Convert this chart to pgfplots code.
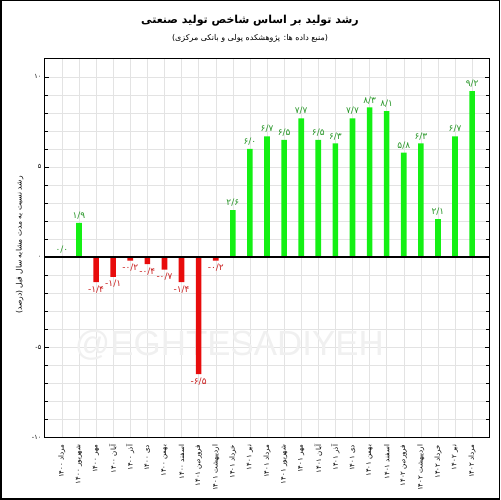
\documentclass[border=0pt]{standalone}
\usepackage{pgfplots}
\pgfplotsset{compat=1.18}
\usepackage{pgfplotstable}
\usepackage{fontspec}
\setmainfont{DejaVu Sans}
\newfontfamily\fa[Script=Arabic]{DejaVu Sans}
\newfontfamily\wm{Liberation Sans}
\TeXXeTstate=1
\newcommand\R[1]{\beginR#1\endR}
\newcommand\m{{\rmfamily -}}
\definecolor{barg}{RGB}{20,240,20}
\definecolor{barr}{RGB}{232,12,12}
\definecolor{lblg}{RGB}{40,150,40}
\definecolor{lblr}{RGB}{200,30,30}

\pgfplotstableread{
x y lbl
0 0.0 ۰/۰
1 1.9 ۱/۹
10 2.6 ۲/۶
11 6.0 ۶/۰
12 6.7 ۶/۷
13 6.5 ۶/۵
14 7.7 ۷/۷
15 6.5 ۶/۵
16 6.3 ۶/۳
17 7.7 ۷/۷
18 8.3 ۸/۳
19 8.1 ۸/۱
20 5.8 ۵/۸
21 6.3 ۶/۳
22 2.1 ۲/۱
23 6.7 ۶/۷
24 9.2 ۹/۲
}\pos

\pgfplotstableread{
x y lbl
2 -1.4 \m۱/۴
3 -1.1 \m۱/۱
4 -0.2 \m۰/۲
5 -0.4 \m۰/۴
6 -0.7 \m۰/۷
7 -1.4 \m۱/۴
8 -6.5 \m۶/۵
9 -0.2 \m۰/۲
}\neg

\begin{document}
\begin{tikzpicture}
\begin{axis}[
  at={(0,0)}, anchor=south west, scale only axis,
  width=444bp, height=378bp,
  xmin=-1, xmax=25, ymin=-10, ymax=11,
  ybar, bar width=0.33, bar shift=0pt,
  xtick={0,...,24},
  xticklabels={\R{مرداد ۱۴۰۰},\R{شهریور ۱۴۰۰},\R{مهر ۱۴۰۰},\R{آبان ۱۴۰۰},\R{آذر ۱۴۰۰},\R{دی ۱۴۰۰},\R{بهمن ۱۴۰۰},\R{اسفند ۱۴۰۰},\R{فروردین ۱۴۰۱},\R{اردیبهشت ۱۴۰۱},\R{خرداد ۱۴۰۱},\R{تیر ۱۴۰۱},\R{مرداد ۱۴۰۱},\R{شهریور ۱۴۰۱},\R{مهر ۱۴۰۱},\R{آبان ۱۴۰۱},\R{آذر ۱۴۰۱},\R{دی ۱۴۰۱},\R{بهمن ۱۴۰۱},\R{اسفند ۱۴۰۱},\R{فروردین ۱۴۰۲},\R{اردیبهشت ۱۴۰۲},\R{خرداد ۱۴۰۲},\R{تیر ۱۴۰۲},\R{مرداد ۱۴۰۲}},
  xticklabel style={rotate=90, anchor=east, font=\fa\fontsize{7}{8}\selectfont},
  xtick style={draw=none},
  ytick={-10,-5,0,5,10},
  yticklabels={\m۱۰,\m۵,۰,۵,۱۰},
  yticklabel style={font=\fa\fontsize{6.5}{7}\selectfont},
  minor ytick={-9,...,10},
  ymajorgrids, yminorgrids, xmajorgrids,
  major grid style={black!11}, minor grid style={black!11},
  axis line style={line width=1.3bp},
  tick style={black},
  nodes near coords, point meta=explicit symbolic,
  every node near coord/.append style={font=\fa\fontsize{9}{10}\selectfont},
]
\node[text=black!6, font=\wm\fontsize{35}{35}\selectfont] at (axis cs:9.8,-4.9) {@EGHTESADIYEH};
\addplot[fill=barg, draw=none, every node near coord/.append style={text=lblg, anchor=south}] table[x=x,y=y,meta=lbl]{\pos};
\addplot[fill=barr, draw=none, every node near coord/.append style={text=lblr, anchor=north}] table[x=x,y=y,meta=lbl]{\neg};
\draw[line width=1.5bp] (axis cs:-1,0) -- (axis cs:25,0);
\end{axis}
\node[font=\fa\bfseries\fontsize{11}{13}\selectfont] at (205bp,416bp) {\R{رشد تولید بر اساس شاخص تولید صنعتی}};
\node[font=\fa\fontsize{8}{9}\selectfont] at (205bp,398bp) {\R{(منبع داده ها: پژوهشکده پولی و بانکی مرکزی)}};
\node[rotate=90, font=\fa\fontsize{7.5}{9}\selectfont] at (-25bp,192bp) {\R{رشد نسبت به مدت مشابه سال قبل (درصد)}};
\draw[line width=1.5bp] (-44bp,-62bp) rectangle (454bp,436bp);
\end{tikzpicture}
\end{document}
